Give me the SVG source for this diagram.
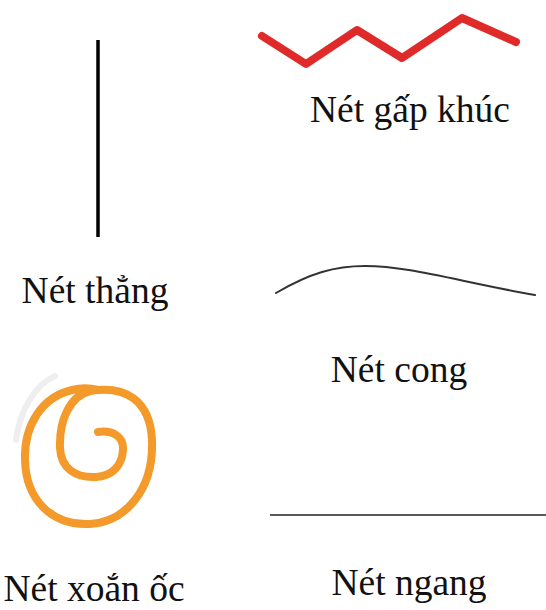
<svg xmlns="http://www.w3.org/2000/svg" width="546" height="610" viewBox="0 0 546 610">
<style>
text{font-family:"Liberation Serif","Times New Roman",serif;font-size:37.5px;fill:#111;text-anchor:middle}
.s{fill:none;stroke-linecap:round;stroke-linejoin:round}
</style>
<rect width="546" height="610" fill="#fff"/>
<g id="thang">
<line x1="98" y1="40" x2="98" y2="237" stroke="#000" stroke-width="3.5"/>
<text x="95" y="303">Nét thẳng</text>
</g>
<g id="gapkhuc">
<polyline class="s" points="262,36 306,64 357,30 402,58 462,18 516,42" stroke="#e02a2a" stroke-width="8"/>
<text x="410" y="122">Nét gấp khúc</text>
</g>
<g id="cong">
<path class="s" d="M276,293 C310,273 335,266 365,266 C410,266 460,282 535,295" stroke="#333" stroke-width="2"/>
<text x="399" y="382">Nét cong</text>
</g>
<g id="xoanoc">
<path class="s" d="M16,440 C20,410 35,385 55,376" stroke="#eeeeee" stroke-width="6"/>
<path class="s" d="M98,432 C112,430 124,436 123,450 C122,466 112,476 96,477 C75,478 61,468 60,448 C59,420 70,396 90,391 C125,385 150,400 152,440 C154,490 125,522 90,524 C52,526 26,500 25,460 C24,425 42,397 72,390 C80,388 90,388 98,390" stroke="#f39a2a" stroke-width="8"/>
<text x="94" y="601">Nét xoắn ốc</text>
</g>
<g id="ngang">
<line x1="270" y1="515" x2="546" y2="515" stroke="#222" stroke-width="1.5"/>
<text x="409" y="595">Nét ngang</text>
</g>
</svg>
